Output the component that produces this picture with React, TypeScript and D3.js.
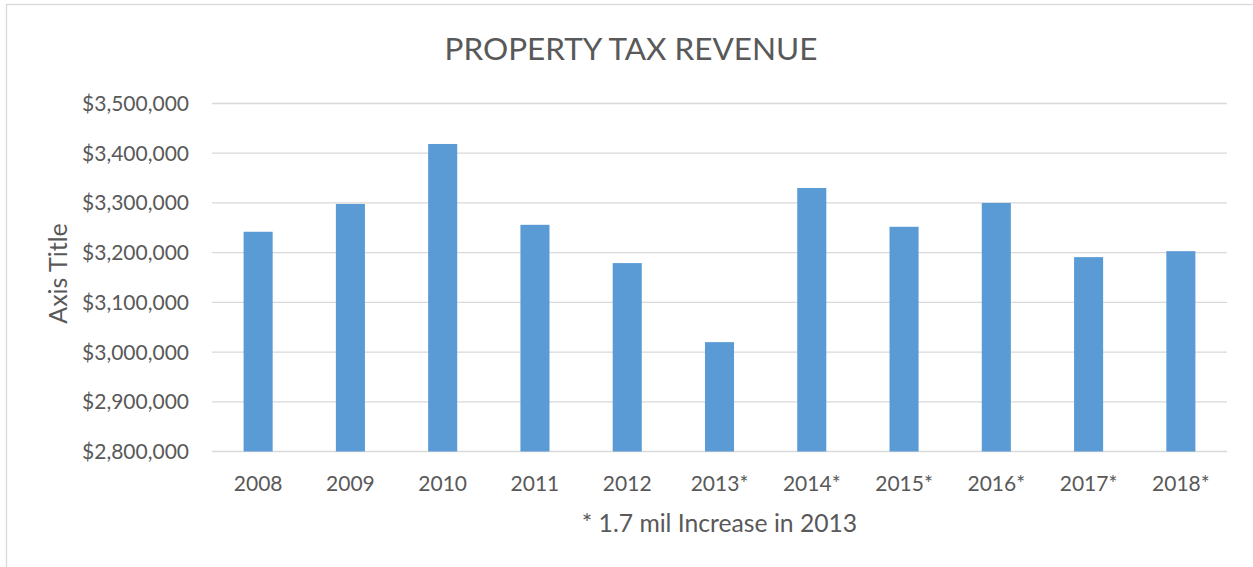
import { useEffect, useRef } from 'react';
import * as d3 from 'd3';

const years = ['2008', '2009', '2010', '2011', '2012', '2013*', '2014*', '2015*', '2016*', '2017*', '2018*'];
const revenue = [3242000, 3298000, 3418600, 3256000, 3179000, 3020000, 3330000, 3252000, 3300000, 3191000, 3203000];
const yTicks = [2800000, 2900000, 3000000, 3100000, 3200000, 3300000, 3400000, 3500000];

const W = 1253;
const H = 567;
const FONT = 'Lato, "Open Sans", sans-serif';
const TEXT = '#595959';

export default function App() {
  const ref = useRef<SVGSVGElement | null>(null);

  useEffect(() => {
    if (!ref.current) return;
    const svg = d3.select(ref.current);
    svg.selectAll('*').remove();

    const margin = { top: 103.5, right: 26, bottom: 115.5, left: 212 };
    const innerW = W - margin.left - margin.right;
    const innerH = H - margin.top - margin.bottom;

    svg.append('rect')
      .attr('x', 6.5).attr('y', 4.5)
      .attr('width', W + 10).attr('height', H + 10)
      .attr('fill', '#fff').attr('stroke', '#d9d9d9').attr('stroke-width', 1.3);

    const x = d3.scaleBand().domain(years).range([0, innerW]).padding(0);
    const y = d3.scaleLinear().domain([2800000, 3500000]).range([innerH, 0]);
    const barW = x.step() * 0.315;

    const g = svg.append('g').attr('transform', `translate(${margin.left},${margin.top})`);

    g.append('g')
      .selectAll('line')
      .data(yTicks)
      .join('line')
      .attr('x1', 0).attr('x2', innerW)
      .attr('y1', (d) => y(d)).attr('y2', (d) => y(d))
      .attr('stroke', '#d9d9d9').attr('stroke-width', 1.3);

    g.append('g')
      .selectAll('rect')
      .data(revenue)
      .join('rect')
      .attr('x', (_, i) => (x(years[i]) || 0) + x.bandwidth() / 2 - barW / 2)
      .attr('y', (d) => y(d))
      .attr('width', barW)
      .attr('height', (d) => innerH - y(d))
      .attr('fill', '#5b9bd5');

    const fmt = d3.format('$,.0f');
    g.append('g')
      .selectAll('text')
      .data(yTicks)
      .join('text')
      .attr('x', -23).attr('y', (d) => y(d))
      .attr('dy', '0.36em')
      .attr('text-anchor', 'end')
      .style('font-family', FONT).style('font-size', '21px').attr('fill', TEXT)
      .text((d) => fmt(d));

    g.append('g')
      .selectAll('text')
      .data(years)
      .join('text')
      .attr('x', (d) => (x(d) || 0) + x.bandwidth() / 2)
      .attr('y', innerH + 39.5)
      .attr('text-anchor', 'middle')
      .style('font-family', FONT).style('font-size', '21px').attr('fill', TEXT)
      .text((d) => d);

    // title is centred on the whole chart area, not on the plot
    svg.append('text')
      .attr('x', 631).attr('y', 59.5)
      .attr('text-anchor', 'middle')
      .style('font-family', FONT).style('font-size', '31.5px').attr('fill', TEXT)
      .text('PROPERTY TAX REVENUE');

    svg.append('text')
      .attr('x', margin.left + innerW / 2).attr('y', 531.5)
      .attr('text-anchor', 'middle')
      .style('font-family', FONT).style('font-size', '24.7px').attr('fill', TEXT)
      .text('* 1.7 mil Increase in 2013');

    svg.append('text')
      .attr('transform', `translate(67,${margin.top + innerH / 2 - 4}) rotate(-90)`)
      .attr('text-anchor', 'middle')
      .style('font-family', FONT).style('font-size', '25px').attr('fill', TEXT)
      .text('Axis Title');
  }, []);

  return (
    <div style={{ position: 'absolute', left: 0, top: 0 }}>
      <svg ref={ref} width={W} height={H} style={{ display: 'block' }} />
    </div>
  );
}
